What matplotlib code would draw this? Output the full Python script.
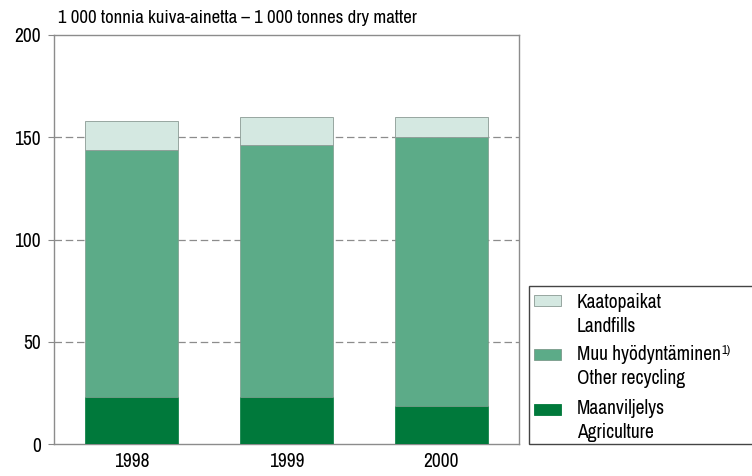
import matplotlib
matplotlib.use("Agg")
import matplotlib.pyplot as plt
from matplotlib import font_manager
from matplotlib.patches import Rectangle
import numpy as np

# pick a narrow font if one is installed
cond = None
for f in font_manager.fontManager.ttflist:
    n = f.name
    if "Narrow" in n or "Condensed" in n:
        cond = ("name", n)
        break
    if f.stretch in ("condensed", "semi-condensed", 500) and f.name == "DejaVu Sans":
        cond = ("stretch", n)
if cond and cond[0] == "name":
    plt.rcParams['font.family'] = [cond[1], 'DejaVu Sans']
else:
    plt.rcParams['font.family'] = ['DejaVu Sans']
    if cond:
        plt.rcParams['font.stretch'] = 'condensed'

years = ["1998", "1999", "2000"]
agriculture = [23, 23, 18.5]
other_recycling = [121, 123, 131.5]
landfills = [14, 14, 10]

labels_fi = ["Kaatopaikat", "Muu hyödyntäminen", "Maanviljelys"]
labels_en = ["Landfills", "Other recycling", "Agriculture"]
colors = ["#d4e8e1", "#5cab88", "#00793b"]
edges = ["#8a9a94", "#7a9a8a", "#00793b"]

fig = plt.figure(figsize=(7.52, 4.76), dpi=100)
ax = fig.add_axes([54 / 752, 32 / 476, 465 / 752, 409 / 476])

x = np.arange(len(years))
w = 0.6
bottom2 = np.array(agriculture)
bottom3 = bottom2 + np.array(other_recycling)
ax.bar(x, agriculture, w, color=colors[2], edgecolor=edges[2], linewidth=0.5, zorder=3)
ax.bar(x, other_recycling, w, bottom=bottom2, color=colors[1], edgecolor=edges[1], linewidth=0.5, zorder=3)
ax.bar(x, landfills, w, bottom=bottom3, color=colors[0], edgecolor=edges[0], linewidth=0.6, zorder=3)

ax.set_xlim(-0.5, 2.5)
ax.set_ylim(0, 200)
ax.set_yticks([0, 50, 100, 150, 200])
ax.set_xticks(x)
ax.set_xticklabels(years)
ax.tick_params(axis="y", length=4.5, color="#888888", labelsize=14, pad=5)
ax.tick_params(axis="x", length=0, labelsize=14, pad=6)
for y in [50, 100, 150]:
    ax.axhline(y, color="#8c8c8c", linewidth=0.9, linestyle=(0, (6, 3)), zorder=1)
for s in ax.spines.values():
    s.set_color("#8c8c8c")
    s.set_linewidth(1.0)

fig.text(58 / 752, 1 - 18 / 476, "1 000 tonnia kuiva-ainetta – 1 000 tonnes dry matter",
         fontsize=13.5, va="center", ha="left")

# legend drawn by hand, as in the print original
W, H = 752, 476
def fx(px):
    return px / W
def fy(py):
    return 1 - py / H

fig.patches.append(Rectangle((fx(529), fy(444)), fx(760) - fx(529), fy(286) - fy(444),
                             transform=fig.transFigure, facecolor="white",
                             edgecolor="#444444", linewidth=1.0, zorder=5))
patch_top = [295, 349, 404]
text_y = [(303, 326), (355, 379), (408, 432)]
for i in range(3):
    fig.patches.append(Rectangle((fx(534), fy(patch_top[i] + 11)), fx(561) - fx(534), 11 / H,
                                 transform=fig.transFigure, facecolor=colors[i],
                                 edgecolor=edges[i], linewidth=0.6, zorder=6))
    t = fig.text(fx(577), fy(text_y[i][0]), labels_fi[i], fontsize=14, va="center", zorder=6)
    fig.text(fx(577), fy(text_y[i][1]), labels_en[i], fontsize=14, va="center", zorder=6)
    if i == 1:
        fig.canvas.draw()
        bb = t.get_window_extent()
        fig.text(bb.x1 / W + 0.001, fy(text_y[i][0] - 5), "1)", fontsize=9,
                 va="center", ha="left", zorder=6)

fig.savefig("out.png", dpi=100)
